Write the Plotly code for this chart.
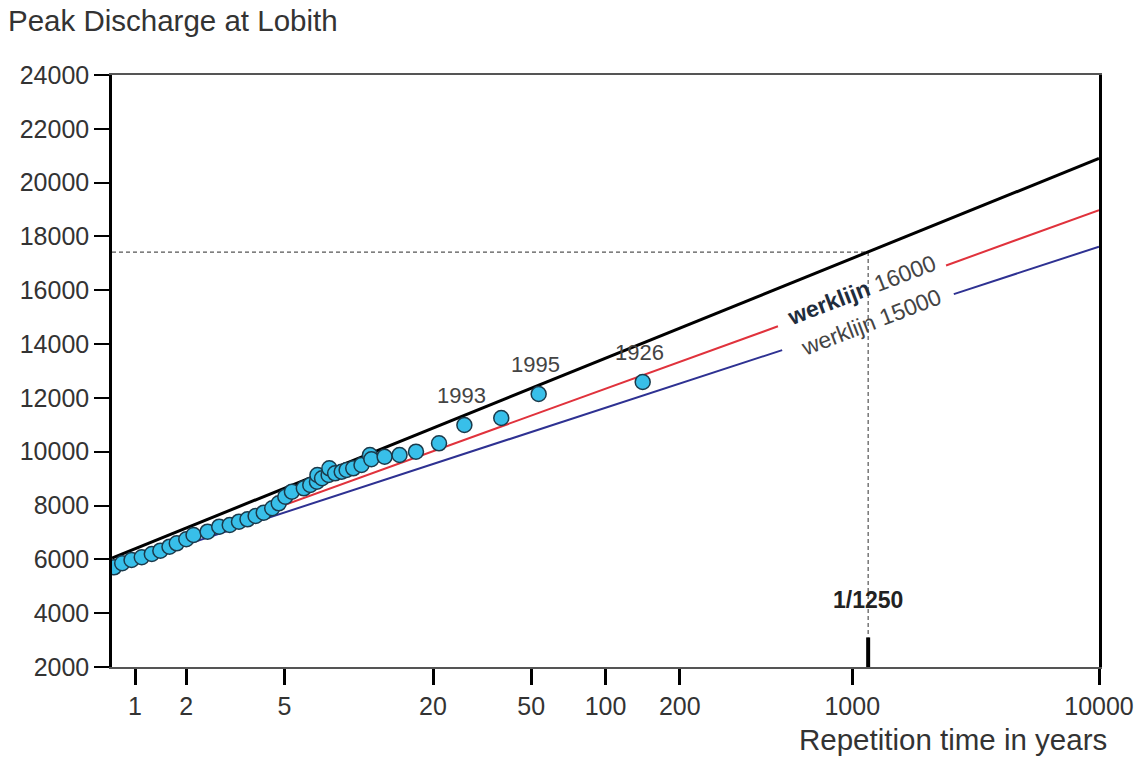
import numpy as np
import plotly.graph_objects as go

# ---------------- data ----------------
# observed annual peak discharges (plotting positions read from the picture)
obs_T = [1.02, 1.10, 1.20, 1.32, 1.45, 1.57, 1.71, 1.83, 2.00, 2.14, 2.44, 2.72,
         3.00, 3.27, 3.54, 3.82, 4.12, 4.46, 4.74, 5.04, 5.36, 5.99, 6.36, 6.77,
         6.80, 7.10, 7.55, 7.60, 8.02, 8.53, 8.93, 9.50, 10.26, 11.10, 11.25,
         12.73, 14.63, 17.06, 21.15, 26.8, 37.8, 53.6, 141.5]
obs_Q = [5705, 5854, 5976, 6077, 6199, 6322, 6471, 6597, 6746, 6905, 7028, 7214,
         7277, 7400, 7489, 7611, 7734, 7898, 8083, 8329, 8515, 8641, 8764, 8886,
         9135, 9013, 9135, 9384, 9198, 9258, 9321, 9384, 9507, 9878, 9719,
         9815, 9878, 10001, 10313, 10993, 11253, 12145, 12591]

# labelled flood years
year_labels = ["1993", "1995", "1926"]
year_T = [26.8, 53.6, 141.5]
year_Q = [10993, 12145, 12591]

# new working line (black)
new_line_T = [1, 10000]
new_line_Q = [6050, 20900]

# werklijn 16000 (red), gap where the label sits
w16000_T = [1, 500, None, 2400, 10000]
w16000_Q = [5700, 14661, None, 16922, 18980]

# werklijn 15000 (blue), gap where the label sits
w15000_T = [1, 520, None, 2580, 10000]
w15000_Q = [5650, 13776, None, 15857, 17620]

# design discharge marker ("1/1250"), position as drawn in the picture
design_T = 1160
design_Q = 17420
axis_Q_min = 2000
marker_top_Q = 3100

# axes
x_tick_vals = [1.24, 2, 5, 20, 50, 100, 200, 1000, 10000]
x_tick_text = ["1", "2", "5", "20", "50", "100", "200", "1000", "10000"]
y_tick_vals = [2000, 4000, 6000, 8000, 10000, 12000, 14000, 16000, 18000,
               20000, 22000, 24000]
y_tick_text = ["2000", "4000", "6000", "8000", "10000", "12000", "14000",
               "16000", "18000", "20000", "22000", "24000"]

FONT = "Liberation Sans, Arial, Helvetica, sans-serif"
TXT = "#333333"

fig = go.Figure()

# dashed guide lines to the design value
fig.add_trace(go.Scatter(
    x=[1, design_T, design_T], y=[design_Q, design_Q, marker_top_Q],
    mode="lines", line=dict(color="#555555", width=1.2, dash="4px,3px"),
    hoverinfo="skip", showlegend=False))
# thick marker at the bottom
fig.add_trace(go.Scatter(
    x=[design_T, design_T], y=[axis_Q_min, marker_top_Q],
    mode="lines", line=dict(color="black", width=4),
    hoverinfo="skip", showlegend=False))

fig.add_trace(go.Scatter(x=w15000_T, y=w15000_Q, mode="lines",
                         line=dict(color="#2e3192", width=2),
                         connectgaps=False, showlegend=False))
fig.add_trace(go.Scatter(x=w16000_T, y=w16000_Q, mode="lines",
                         line=dict(color="#e0323c", width=2),
                         connectgaps=False, showlegend=False))
fig.add_trace(go.Scatter(x=new_line_T, y=new_line_Q, mode="lines",
                         line=dict(color="black", width=3),
                         showlegend=False))

fig.add_trace(go.Scatter(
    x=obs_T, y=obs_Q, mode="markers",
    marker=dict(size=15, color="#38bfe9",
                line=dict(color="#1b3a4b", width=1.5)),
    showlegend=False))

annotations = []
for lab, t, q in zip(year_labels, year_T, year_Q):
    annotations.append(dict(x=np.log10(t), y=q, xref="x", yref="y", text=lab,
                            showarrow=False, yshift=30, xshift=-3,
                            font=dict(family=FONT, size=22, color="#444444")))

annotations.append(dict(x=np.log10(1091), y=16010, xref="x", yref="y",
                        text="<b><span style='color:#1f2d3d'>werklijn</span></b> 16000",
                        textangle=-21, showarrow=False,
                        font=dict(family=FONT, size=23, color="#444444")))
annotations.append(dict(x=np.log10(1196), y=14821, xref="x", yref="y",
                        text="werklijn 15000",
                        textangle=-21, showarrow=False,
                        font=dict(family=FONT, size=23, color="#444444")))
annotations.append(dict(x=np.log10(design_T), y=4480, xref="x", yref="y",
                        text="<b>1/1250</b>", showarrow=False,
                        font=dict(family=FONT, size=23, color="#222222")))
annotations.append(dict(x=1.01, y=-0.123, xref="paper", yref="paper",
                        xanchor="right", yanchor="middle",
                        text="Repetition time in years", showarrow=False,
                        font=dict(family=FONT, size=29.5, color=TXT)))

fig.update_layout(
    width=1146, height=757,
    margin=dict(l=112, r=36, t=75, b=90),
    paper_bgcolor="white", plot_bgcolor="white",
    title=dict(text="Peak Discharge at Lobith", x=0.007, xanchor="left",
               xref="container", y=1 - 21 / 757, yanchor="middle",
               yref="container",
               font=dict(family=FONT, size=29.5, color=TXT)),
    annotations=annotations,
    showlegend=False,
)

fig.update_xaxes(type="log", range=[0, 4], tickvals=x_tick_vals,
                 ticktext=x_tick_text, showgrid=False, zeroline=False,
                 showline=True, linecolor="#555555", linewidth=2, mirror=True,
                 ticks="outside", ticklen=16, tickwidth=3, tickcolor="black",
                 tickfont=dict(family=FONT, size=25, color=TXT))
fig.update_yaxes(range=[2000, 24000], tickvals=y_tick_vals,
                 ticktext=y_tick_text,
                 showgrid=False, zeroline=False,
                 showline=True, linecolor="black", linewidth=2.5, mirror=True,
                 ticks="outside", ticklen=15, tickwidth=2, tickcolor="black",
                 tickfont=dict(family=FONT, size=25, color=TXT))

fig.write_html(
    "out.html",
    config={"displayModeBar": False},
    post_script="document.body.style.margin='0';document.body.style.overflow='hidden';")
